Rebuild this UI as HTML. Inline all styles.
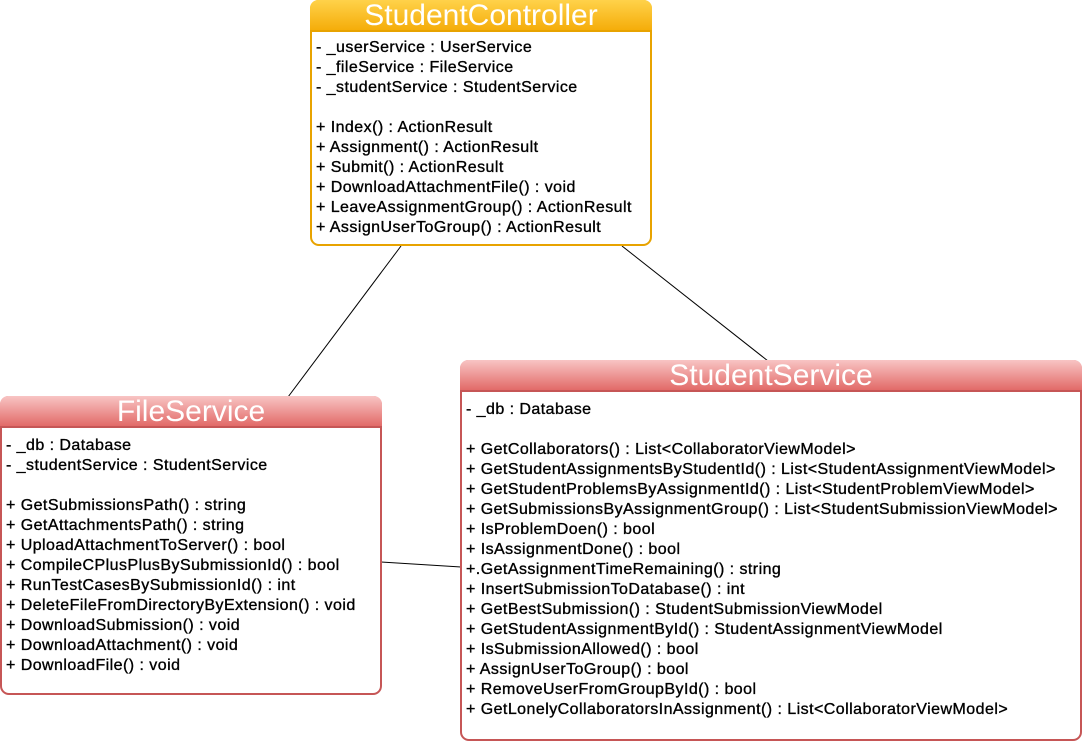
<!DOCTYPE html>
<html><head><meta charset="utf-8"><style>
body{margin:0;width:1083px;height:743px;background:#fff;position:relative;overflow:hidden;font-family:"Liberation Sans",Arial,sans-serif;}
.box{position:absolute;background:#fff;border-radius:9px;box-sizing:border-box;}
.hd{position:absolute;left:0;right:0;top:0;height:32px;border-radius:8px 8px 0 0;color:#fff;font-size:30px;text-align:center;line-height:32px;box-sizing:border-box;}
.or{border:2px solid #e8a300;}
.or .hd{background:linear-gradient(#ffd24a,#f5ad0a);border-bottom:2px solid #e8a300;}
.rd{border:2px solid #c65656;}
.rd .hd{background:linear-gradient(#f8c4c4,#e26a68);border-bottom:2px solid #c65656;}
.ln{position:absolute;left:4px;font-size:16px;letter-spacing:0.45px;line-height:20px;white-space:nowrap;color:#000;-webkit-text-stroke:0.35px #000;}
</style></head><body>
<svg width="1083" height="743" style="position:absolute;left:0;top:0">
<line x1="401" y1="246" x2="288" y2="397" stroke="#000" stroke-width="1"/>
<line x1="622" y1="246" x2="768" y2="361" stroke="#000" stroke-width="1"/>
<line x1="381" y1="562" x2="461" y2="567" stroke="#000" stroke-width="1"/>
</svg>

<div class="box or" style="left:310px;top:0;width:342px;height:246px">
<div class="hd" style="margin:-2px;width:342px">StudentController</div>
<div class="ln" style="top:36px">- _userService : UserService</div>
<div class="ln" style="top:56px">- _fileService : FileService</div>
<div class="ln" style="top:76px">- _studentService : StudentService</div>
<div class="ln" style="top:116px">+ Index() : ActionResult</div>
<div class="ln" style="top:136px">+ Assignment() : ActionResult</div>
<div class="ln" style="top:156px">+ Submit() : ActionResult</div>
<div class="ln" style="top:176px">+ DownloadAttachmentFile() : void</div>
<div class="ln" style="top:196px">+ LeaveAssignmentGroup() : ActionResult</div>
<div class="ln" style="top:216px">+ AssignUserToGroup() : ActionResult</div>
</div>

<div class="box rd" style="left:0;top:396px;width:382px;height:299px">
<div class="hd" style="margin:-2px;width:382px">FileService</div>
<div class="ln" style="top:38px">- _db : Database</div>
<div class="ln" style="top:58px">- _studentService : StudentService</div>
<div class="ln" style="top:98px">+ GetSubmissionsPath() : string</div>
<div class="ln" style="top:118px">+ GetAttachmentsPath() : string</div>
<div class="ln" style="top:138px">+ UploadAttachmentToServer() : bool</div>
<div class="ln" style="top:158px">+ CompileCPlusPlusBySubmissionId() : bool</div>
<div class="ln" style="top:178px">+ RunTestCasesBySubmissionId() : int</div>
<div class="ln" style="top:198px">+ DeleteFileFromDirectoryByExtension() : void</div>
<div class="ln" style="top:218px">+ DownloadSubmission() : void</div>
<div class="ln" style="top:238px">+ DownloadAttachment() : void</div>
<div class="ln" style="top:258px">+ DownloadFile() : void</div>
</div>

<div class="box rd" style="left:460px;top:360px;width:622px;height:381px">
<div class="hd" style="margin:-2px;width:622px">StudentService</div>
<div class="ln" style="top:38px">- _db : Database</div>
<div class="ln" style="top:78px">+ GetCollaborators() : List&lt;CollaboratorViewModel&gt;</div>
<div class="ln" style="top:98px">+ GetStudentAssignmentsByStudentId() : List&lt;StudentAssignmentViewModel&gt;</div>
<div class="ln" style="top:118px">+ GetStudentProblemsByAssignmentId() : List&lt;StudentProblemViewModel&gt;</div>
<div class="ln" style="top:138px">+ GetSubmissionsByAssignmentGroup() : List&lt;StudentSubmissionViewModel&gt;</div>
<div class="ln" style="top:158px">+ IsProblemDoen() : bool</div>
<div class="ln" style="top:178px">+ IsAssignmentDone() : bool</div>
<div class="ln" style="top:198px">+.GetAssignmentTimeRemaining() : string</div>
<div class="ln" style="top:218px">+ InsertSubmissionToDatabase() : int</div>
<div class="ln" style="top:238px">+ GetBestSubmission() : StudentSubmissionViewModel</div>
<div class="ln" style="top:258px">+ GetStudentAssignmentById() : StudentAssignmentViewModel</div>
<div class="ln" style="top:278px">+ IsSubmissionAllowed() : bool</div>
<div class="ln" style="top:298px">+ AssignUserToGroup() : bool</div>
<div class="ln" style="top:318px">+ RemoveUserFromGroupById() : bool</div>
<div class="ln" style="top:338px">+ GetLonelyCollaboratorsInAssignment() : List&lt;CollaboratorViewModel&gt;</div>
</div>
</body></html>
